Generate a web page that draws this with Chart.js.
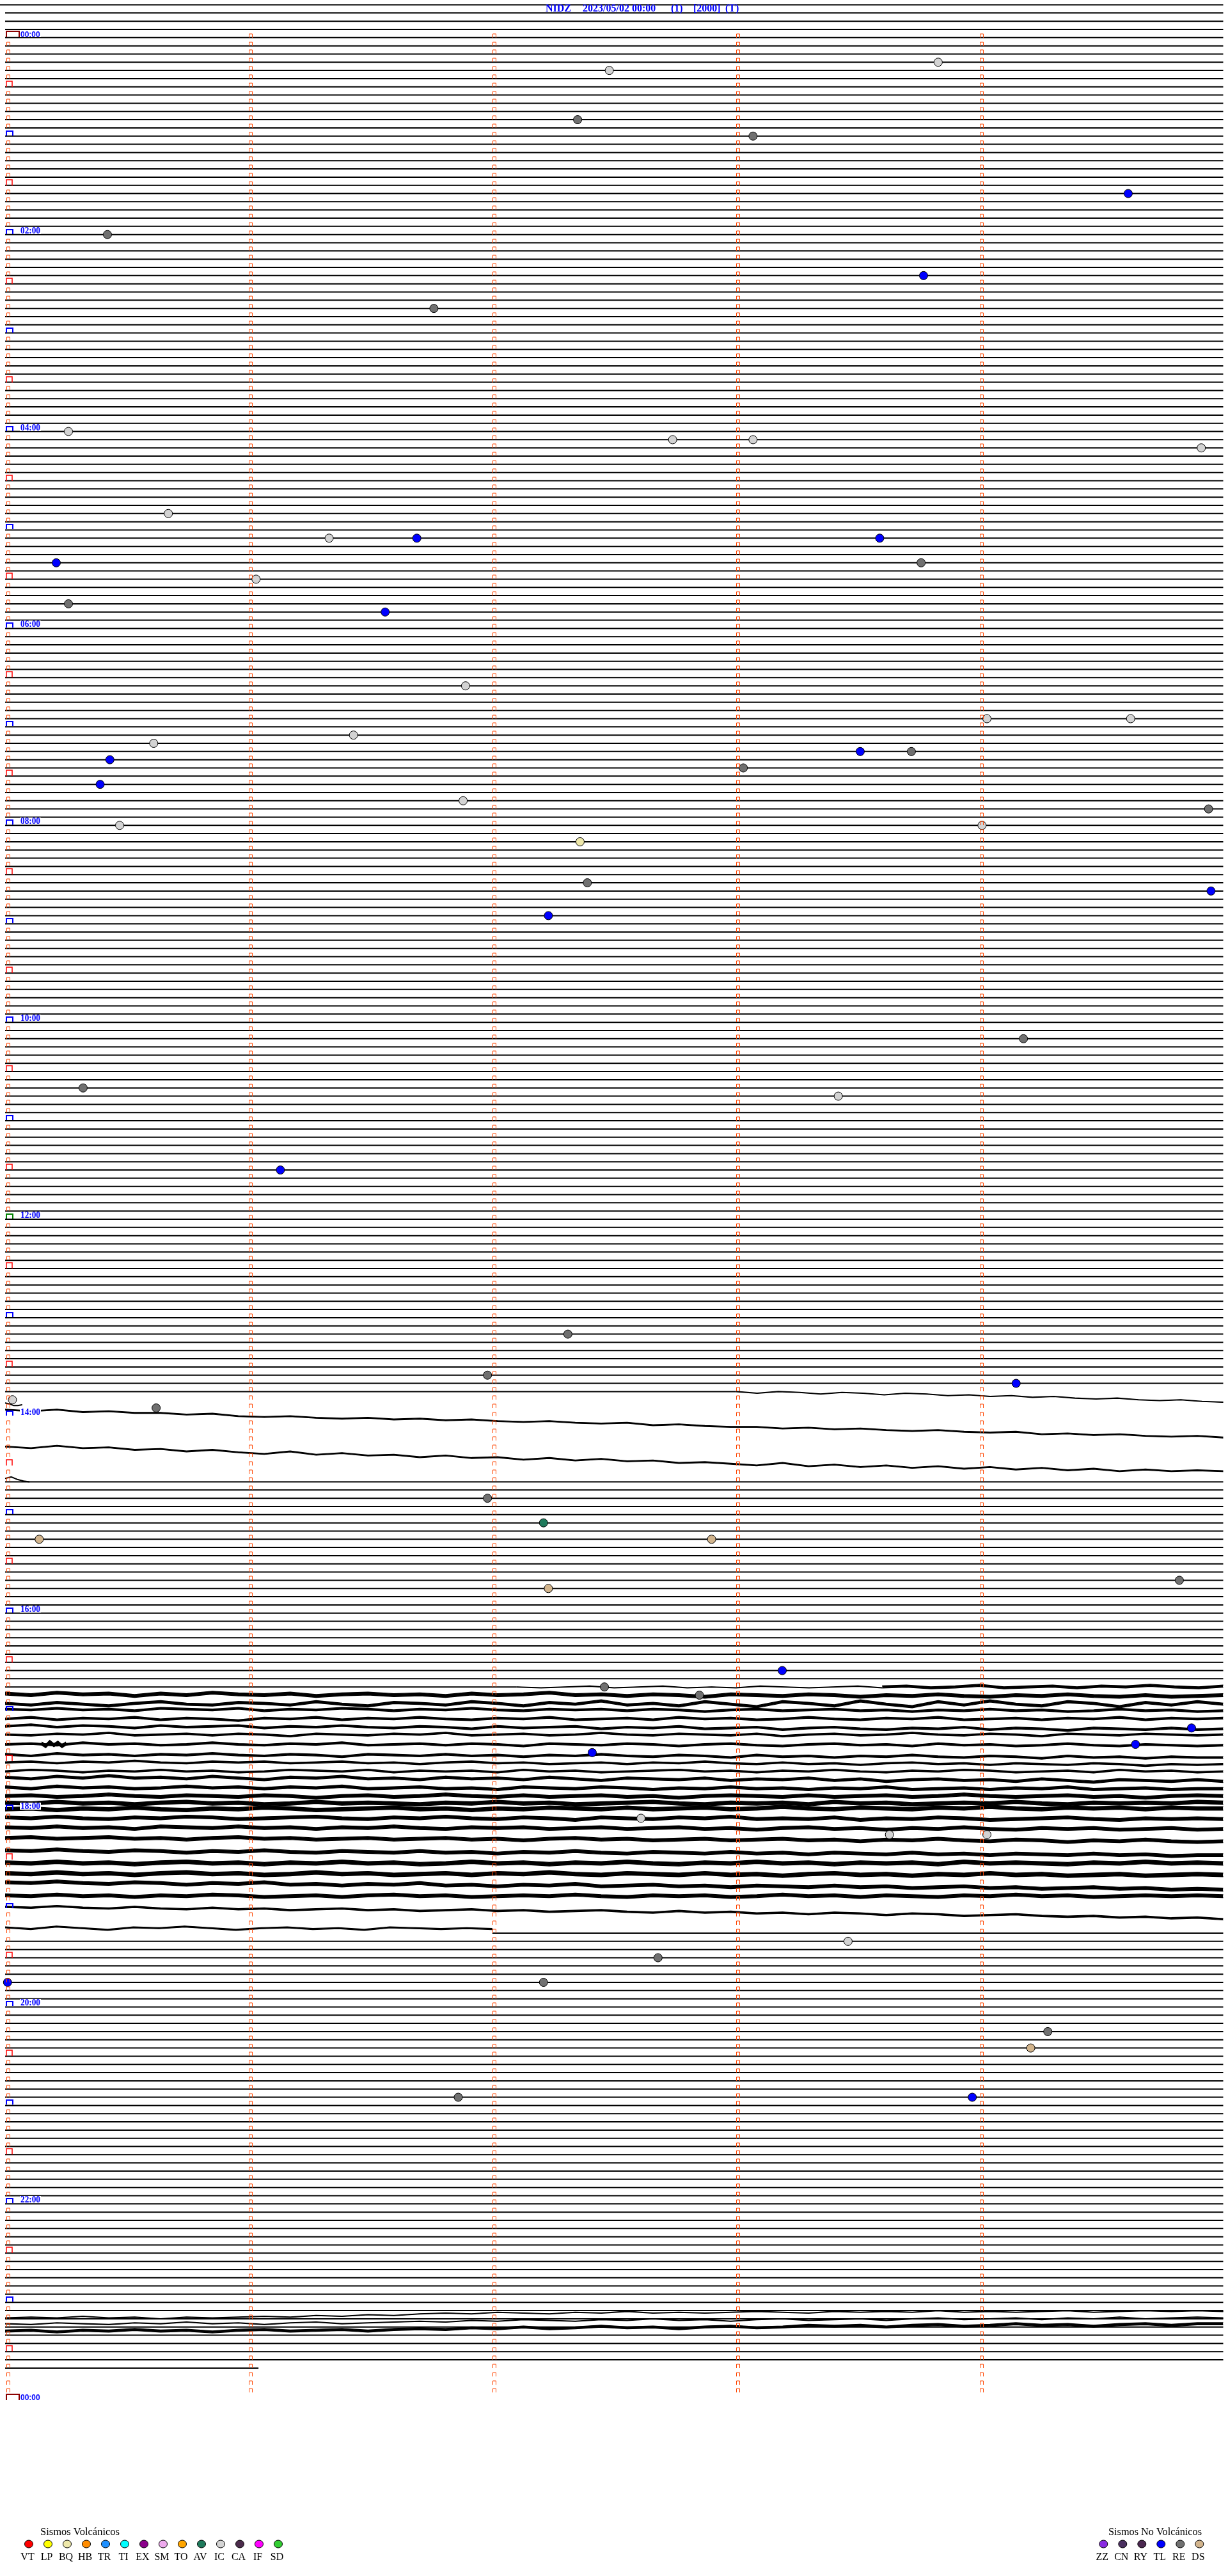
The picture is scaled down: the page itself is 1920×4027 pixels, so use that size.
<!DOCTYPE html>
<html>
<head>
<meta charset="utf-8">
<script src="https://cdn.jsdelivr.net/npm/chart.js"></script>
<style>
  html, body { margin: 0; padding: 0; background: #fff; }
  #viz { display: block; }
</style>
</head>
<body>
<canvas id="viz" width="1920" height="4027"></canvas>
<script>
// helicorder NIDZ: one line per 5 minutes (12 per hour), x = minute inside the line
var titleParts = ['NIDZ', '2023/05/02 00:00', '(1)', '[2000]', '(T)'];
var hourLabels = ['00:00', '02:00', '04:00', '06:00', '08:00', '10:00', '12:00',
  '14:00', '16:00', '18:00', '20:00', '22:00', '00:00'];

// events: minute of the day and class
var eventMinute = [18.83, 22.48, 52.35, 63.07, 99.61, 120.42, 148.77, 166.76, 240.26, 247.74,
  248.07, 254.91, 290.67, 306.33, 306.69, 308.59, 320.21, 323.76, 331.03, 345.26,
  351.56, 396.89, 419.03, 419.62, 426.43, 430.61, 438.51, 438.72, 440.43, 448.03,
  455.39, 466.88, 474.94, 480.47, 484.01, 492.36, 517.39, 524.95, 537.23, 614.18,
  640.32, 648.42, 691.13, 792.31, 816.98, 824.15, 830.03, 835.62, 891.98, 907.21,
  915.14, 917.90, 944.82, 947.23, 998.19, 1007.46, 1012.85, 1034.87, 1044.64, 1047.41,
  1087.61, 1098.63, 1099.03, 1163.46, 1172.68, 1185.01, 1187.21, 1219.28, 1229.21, 1256.86,
  1258.97];
var eventType = ['IC', 'IC', 'RE', 'RE', 'TL', 'RE', 'TL', 'RE', 'IC', 'IC',
  'IC', 'IC', 'IC', 'IC', 'TL', 'TL', 'TL', 'RE', 'IC', 'RE',
  'TL', 'IC', 'IC', 'IC', 'IC', 'IC', 'TL', 'RE', 'TL', 'RE',
  'TL', 'IC', 'RE', 'IC', 'IC', 'BQ', 'RE', 'TL', 'TL', 'RE',
  'RE', 'IC', 'TL', 'RE', 'RE', 'TL', 'IC', 'RE', 'RE', 'AV',
  'DS', 'DS', 'RE', 'DS', 'TL', 'RE', 'RE', 'TL', 'TL', 'TL',
  'IC', 'IC', 'IC', 'IC', 'RE', 'TL', 'RE', 'RE', 'DS', 'RE',
  'TL'];

var volcCodes = ['VT', 'LP', 'BQ', 'HB', 'TR', 'TI', 'EX', 'SM', 'TO', 'AV', 'IC', 'CA', 'IF', 'SD'];
var volcColors = ['#ff0000', '#ffff00', '#eee8aa', '#ff8c00', '#1e90ff', '#00ffff', '#8b008b',
  '#eeaaee', '#ffa500', '#1f7a5c', '#d3d3d3', '#4b2b4b', '#ff00ff', '#32cd32'];
var nonVolcCodes = ['ZZ', 'CN', 'RY', 'TL', 'RE', 'DS'];
var nonVolcColors = ['#8a2be2', '#4b3060', '#4b2850', '#0000ff', '#707070', '#d2b48c'];

// rows without a plain base line, and base lines that only cover part of a row
var gapFrom = [165, 201];
var gapTo = [175, 231];
var partRow = [-4, 165, 201, 231, 284];
var partStart = [-0.021, 0, 0, 2.0, 0];
var partEnd = [5, 3.0, 2.1, 5, 1.04];

// recorded traces: row, start/end minute, noise half width and trace offsets (tenths of a line)
var traceRow = [165, 166, 168, 172, 176, 201, 201, 202, 203, 204, 205, 206, 207, 208, 208,
  209, 210, 211, 212, 213, 214, 215, 216, 217, 218, 219, 221, 222, 223, 225, 226, 228,
  231, 278, 279, 280];
var traceStart = [3.0, 0, 0, 0, 0, 2.1, 3.6, 0, 0, 0, 0, 0, 0, 0, 0.15,
  0, 0, 0, 0, 0, 0, 0, 0, 0, 0, 0, 0, 0, 0, 0, 0, 0,
  0, 0, 0, 0];
var traceEnd = [5, 0.07, 5, 5, 0.1, 3.6, 5, 5, 5, 5, 5, 5, 5, 5, 0.25,
  5, 5, 5, 5, 5, 5, 5, 5, 5, 5, 5, 5, 5, 5, 5, 5, 5,
  2.0, 5, 5, 5];
var traceNoise = [0.3, 0.3, 0.6, 0.6, 0.3, 0.3, 1.3, 1.8, 1.4, 1.1, 1.1, 1.1, 0.9, 1.1, 2,
  1.1, 0.9, 0.9, 1.4, 1.5, 1.8, 2.1, 2.1, 1.8, 1.8, 1.8, 1.8, 2.2, 2.2, 1.8, 1.8, 0.9,
  0.7, 0.3, 0.3, 1.3];
var traceVals = [
  [0, 2, 0, 1, 3, 1, 2, 4, 2, 3, 5, 4, 6, 5, 7, 6, 8, 9, 8, 10, 11, 10, 12, 13],
  [4, 5, 7, 7, 6],
  [-8, -6, -8, -5, -6, -4, -4, -2, -3, 0, 1, 0, 2, 3, 2, 4, 3, 5, 4, 6, 7, 6, 8, 9, 8, 11, 10, 12, 13, 13, 15, 14, 16, 15, 17, 18, 17, 19, 20, 19, 22, 21, 23, 22, 24, 25, 24, 26],
  [-3, -1, -4, -1, -2, 1, 0, 3, 1, 4, 6, 3, 7, 5, 8, 7, 10, 8, 11, 10, 13, 11, 14, 12, 15, 14, 17, 16, 18, 20, 17, 21, 19, 22, 20, 23, 21, 24, 22, 25, 23, 26, 24, 27, 25, 27, 26, 27],
  [-4, -6, -3, -1, 0],
  [0, 1, 0, -1, 1, 0, -1, 1, 0, 1, -1, 0, 1, 0, -1, 1],
  [0, -1, 1, 0, -2, 1, 0, -1, 1, -1, 0, -2, 0, 1, -1],
  [-2, 0, -3, -1, -2, 1, -2, 0, -3, -1, 0, -2, 1, -1, -2, 0, -1, 1, -2, 0, -1, -3, 0, -1, 1, -1, 0, 2, -1, 0, 1, -1, 0, 2, 0, 1, -1, 1, 2, 0, 1, -1, 1, 2, 0, 2, 1, 0],
  [0, 2, -1, 1, 3, 0, -2, 1, 2, -1, 0, 2, -2, 1, 3, -1, 0, 2, -2, 0, 3, -1, 1, -3, 2, 0, 3, -2, 1, 4, -2, 0, 3, -3, 1, 4, -2, 2, -3, 1, 3, -2, 0, 4, -1, 2, -2, 1],
  [-3, -2, -4, -2, -3, -1, -4, -3, -2, -4, -1, -3, -2, -4, -3, -1, -3, -2, -4, -2, -1, -3, -2, -3, -1, -3, -2, 0, -2, -3, -1, -2, -3, -1, -2, 0, -2, -1, -3, -1, -2, 0, -1, -3, -1, -2, 0, -1],
  [-1, -3, 0, -2, -1, -3, 0, -2, -1, 1, -2, -1, -3, 0, -2, -1, -3, -1, 0, -2, -1, -3, 0, -1, -2, 0, -3, -1, -2, 0, -1, -3, -1, 0, -2, -1, -3, 0, -1, -2, 0, -2, -1, -3, 0, -2, -1, -2],
  [-2, -4, -1, -3, -2, 0, -3, -1, -2, -3, 0, -2, -1, -3, -1, 0, -2, -1, 1, -2, 0, -1, -2, 1, -1, 0, -2, 1, 0, -1, 2, 0, -1, 1, 2, 0, 1, -1, 2, 0, 1, 3, 0, 1, 2, 0, 2, 1],
  [-2, -1, -3, -2, -4, -1, -2, -3, -1, -3, -2, 0, -3, -2, -1, -3, -2, -4, -1, -2, -3, -1, -2, -4, -2, -1, -3, -2, -1, -3, 0, -2, -3, -1, -2, -4, -2, -1, -3, -2, 0, -3, -2, -1, -3, -2, -1, -2],
  [0, -1, 1, -2, 0, -1, 1, 0, -2, 0, 1, -1, 0, -2, 1, 0, -1, 1, -1, 0, 2, -1, 0, 1, -1, 0, 2, 0, -1, 1, 2, 0, -1, 1, 0, 2, -1, 1, 0, 2, 1, -1, 1, 2, 0, 1, 2, 1],
  [-1, 2, -3, 1, -2, 2, -1],
  [2, 4, 1, 3, 2, 4, 2, 3, 1, 3, 4, 2, 3, 5, 2, 3, 4, 2, 4, 3, 5, 3, 4, 2, 4, 5, 3, 4, 6, 3, 5, 4, 6, 4, 5, 3, 5, 6, 4, 5, 7, 4, 6, 5, 7, 5, 6, 6],
  [2, 1, 3, 1, 2, 0, 2, 3, 1, 2, 1, 3, 2, 1, 3, 2, 4, 2, 1, 3, 2, 4, 3, 2, 4, 2, 3, 1, 3, 4, 2, 4, 3, 5, 3, 2, 4, 3, 5, 3, 4, 5, 3, 4, 6, 4, 5, 4],
  [3, 1, 2, 4, 2, 3, 1, 3, 2, 4, 3, 1, 2, 3, 1, 4, 2, 3, 2, 4, 1, 3, 2, 4, 3, 2, 1, 3, 2, 4, 2, 3, 1, 3, 4, 2, 3, 1, 2, 4, 3, 2, 4, 1, 3, 2, 4, 3],
  [0, 2, -1, 1, -2, 1, 0, 2, -1, 1, 3, 0, 1, -1, 2, 1, 3, 0, 2, 1, 3, 0, 2, 4, 1, 2, 3, 1, 4, 2, 3, 1, 4, 2, 5, 3, 2, 4, 3, 5, 2, 4, 6, 3, 4, 5, 3, 5],
  [2, 4, 1, 3, 2, 4, 3, 1, 3, 2, 4, 2, 3, 1, 4, 3, 2, 4, 3, 5, 2, 3, 4, 2, 3, 5, 3, 4, 2, 4, 3, 5, 3, 4, 2, 5, 4, 3, 5, 3, 4, 2, 5, 4, 3, 5, 4, 4],
  [3, 2, 4, 3, 1, 3, 4, 2, 3, 4, 2, 3, 5, 3, 2, 4, 3, 1, 3, 4, 2, 4, 3, 2, 4, 3, 5, 3, 2, 3, 4, 2, 4, 3, 2, 4, 3, 1, 3, 4, 3, 2, 4, 3, 5, 3, 2, 3],
  [1, 2, 0, 2, 1, 3, 1, 0, 2, 1, 3, 2, 0, 2, 1, 2, 3, 1, 2, 0, 2, 1, 3, 2, 1, 0, 2, 3, 1, 2, 1, 3, 0, 2, 1, 3, 2, 1, 2, 0, 2, 3, 1, 2, 1, 2, 0, 1],
  [-1, -2, 0, -2, -1, -3, -1, 0, -2, -1, -3, -2, 0, -1, -2, -3, -1, -2, 0, -2, -1, -3, -2, -1, -3, -1, -2, -3, -1, -2, -4, -2, -1, -3, -2, -1, -3, -2, -4, -2, -1, -3, -2, -3, -1, -3, -2, -2],
  [-1, 0, -2, 0, 1, -1, 0, -2, -1, 1, 0, -1, -2, 0, 1, -1, 0, -2, 0, 1, -1, 0, 2, -1, 0, 1, -1, 0, -2, 1, 0, 1, -1, 2, 0, 1, -1, 0, 2, 1, 0, -1, 1, 2, 0, 1, 0, 1],
  [1, 2, 0, 2, 1, 3, 0, 1, 2, 0, 2, 1, 3, 1, 2, 0, 2, 3, 1, 2, 1, 3, 2, 1, 3, 2, 1, 3, 2, 4, 2, 1, 3, 2, 4, 2, 3, 1, 3, 4, 2, 3, 2, 4, 3, 2, 4, 3],
  [4, 3, 5, 4, 3, 5, 4, 6, 4, 3, 5, 4, 6, 5, 4, 6, 5, 4, 6, 5, 7, 5, 4, 6, 5, 7, 6, 5, 7, 6, 5, 7, 6, 8, 6, 7, 5, 7, 8, 6, 7, 9, 7, 8, 6, 8, 9, 8],
  [-1, 0, -2, 0, 1, -1, 0, 2, 0, 1, -1, 1, 2, 0, 1, 2, 0, 2, 1, 3, 1, 2, 0, 2, 3, 1, 2, 3, 1, 3, 2, 4, 2, 3, 4, 2, 4, 3, 5, 3, 4, 5, 3, 5, 4, 6, 5, 5],
  [4, 5, 3, 5, 4, 6, 4, 3, 5, 4, 6, 4, 5, 3, 5, 4, 6, 5, 3, 5, 4, 6, 4, 5, 3, 5, 6, 4, 5, 3, 5, 4, 6, 4, 5, 4, 6, 3, 5, 4, 5, 6, 4, 5, 3, 5, 4, 5],
  [7, 8, 6, 8, 7, 9, 7, 6, 8, 7, 9, 8, 6, 8, 7, 9, 8, 7, 9, 7, 8, 6, 8, 9, 7, 8, 9, 7, 9, 8, 10, 8, 7, 9, 8, 10, 8, 9, 7, 9, 8, 10, 9, 8, 10, 9, 8, 9],
  [-2, -1, -3, -1, 0, -2, -1, 1, -1, 0, -2, 1, 0, 2, 0, 1, -1, 2, 1, 3, 1, 2, 0, 3, 2, 1, 3, 2, 4, 2, 3, 4, 2, 4, 3, 5, 4, 3, 5, 4, 6, 5, 4, 6, 5, 7, 6, 7],
  [4, 5, 3, 5, 4, 6, 4, 5, 3, 4, 6, 5, 4, 6, 4, 3, 5, 4, 6, 5, 4, 5, 3, 5, 6, 4, 5, 4, 6, 5, 3, 5, 4, 6, 4, 5, 6, 4, 5, 3, 5, 4, 6, 5, 4, 5, 4, 5],
  [-2, -1, -3, -1, 0, -2, 0, 1, -1, 1, 0, 2, 1, 0, 2, 1, 3, 2, 1, 3, 2, 4, 3, 2, 4, 5, 3, 5, 4, 6, 5, 7, 5, 6, 8, 6, 7, 9, 8, 7, 9, 10, 9, 11, 10, 12, 11, 13],
  [-7, -5, -8, -6, -4, -7, -6, -8, -6, -4, -6, -7, -5, -6, -4, -7, -6, -5, -6, -5],
  [-1, -2, -1, -3, -1, -2, 0, -2, -1, -2, -3, -2, -4, -3, -5, -4, -6, -7, -6, -8, -7, -6, -8, -7, -9, -7, -8, -7, -8, -9, -8, -7, -9, -8, -9, -8, -10, -8, -9, -8, -9, -10, -8, -9, -10, -9, -10, -9],
  [-4, -3, -5, -4, -3, -5, -4, -6, -4, -5, -3, -5, -6, -4, -5, -6, -7, -6, -8, -7, -9, -8, -7, -9, -8, -10, -8, -9, -7, -9, -10, -8, -9, -10, -8, -10, -11, -9, -10, -11, -9, -11, -10, -12, -10, -11, -12, -11],
  [-5, -6, -4, -6, -5, -7, -5, -6, -4, -6, -7, -5, -6, -7, -5, -7, -8, -7, -9, -8, -10, -8, -9, -11, -9, -10, -8, -10, -11, -9, -10, -12, -11, -12, -10, -12, -13, -11, -12, -14, -12, -13, -11, -13, -14, -12, -14, -14]
];

function codeColor(code) {
  var i = volcCodes.indexOf(code);
  if (i >= 0) return volcColors[i];
  return nonVolcColors[nonVolcCodes.indexOf(code)];
}

function inGap(r) {
  for (var g = 0; g < gapFrom.length; g++) {
    if (r >= gapFrom[g] && r <= gapTo[g]) return true;
  }
  return false;
}

// plain base lines, split by null points
var basePts = [];
for (var r = -3; r <= 283; r++) {
  if (inGap(r)) continue;
  basePts.push({x: 0, y: r}, {x: 5, y: r}, {x: 5, y: null});
}
for (var p = 0; p < partRow.length; p++) {
  basePts.push({x: partStart[p], y: partRow[p]}, {x: partEnd[p], y: partRow[p]}, {x: partEnd[p], y: null});
}

var eventPts = [];
var eventColors = [];
for (var e = 0; e < eventMinute.length; e++) {
  var row = Math.floor(eventMinute[e] / 5);
  eventPts.push({x: eventMinute[e] - row * 5, y: row});
  eventColors.push(codeColor(eventType[e]));
}

var datasets = [
  {
    type: 'scatter',
    data: eventPts,
    pointRadius: 6.5,
    pointBackgroundColor: eventColors,
    pointBorderColor: '#000',
    pointBorderWidth: 1,
    order: 0,
    clip: false
  },
  {
    data: basePts,
    borderColor: '#000',
    borderWidth: 2,
    pointRadius: 0,
    fill: false,
    order: 1,
    clip: false
  }
];

for (var t = 0; t < traceRow.length; t++) {
  var vals = traceVals[t];
  var upper = [];
  var lower = [];
  for (var i = 0; i < vals.length; i++) {
    var xm = traceStart[t] + (traceEnd[t] - traceStart[t]) * i / (vals.length - 1);
    upper.push({x: xm, y: traceRow[t] + (vals[i] - traceNoise[t]) / 10});
    lower.push({x: xm, y: traceRow[t] + (vals[i] + traceNoise[t]) / 10});
  }
  datasets.push({data: upper, borderColor: '#000', borderWidth: 1.3, pointRadius: 0, fill: false, order: 1, clip: false});
  datasets.push({data: lower, borderColor: '#000', borderWidth: 1.3, pointRadius: 0, fill: '-1',
    backgroundColor: '#000', order: 1, clip: false});
}

function bracket(ctx, x, y, w, h) {
  ctx.beginPath();
  ctx.moveTo(x, y);
  ctx.lineTo(x, y - h);
  ctx.lineTo(x + w, y - h);
  ctx.lineTo(x + w, y);
  ctx.stroke();
}

var helicorderMarks = {
  id: 'helicorderMarks',
  afterDatasetsDraw: function (chart) {
    var ctx = chart.ctx;
    var xs = chart.scales.x;
    var ys = chart.scales.y;
    ctx.save();
    for (var r = 0; r <= 288; r++) {
      var py = Math.round(ys.getPixelForValue(r));
      var left = Math.round(xs.getPixelForValue(0));
      if (r < 288) {
        ctx.lineWidth = 1;
        ctx.strokeStyle = '#ff4500';
        for (var m = 1; m < 5; m++) {
          bracket(ctx, Math.round(xs.getPixelForValue(m)) + 0.5, py, 5, 6);
        }
      }
      if (r % 24 === 0) {
        // white patch behind the hour label, as on the drum record
        ctx.fillStyle = '#fff';
        ctx.fillRect(31, py - 12, 33, 11);
        ctx.fillStyle = '#0000ff';
        ctx.textBaseline = 'alphabetic';
        ctx.textAlign = 'left';
        if (r === 0 || r === 288) {
          ctx.font = 'bold 12px "Liberation Sans"';
          ctx.fillText(hourLabels[r / 24], 32, py - 1, 31);
        } else {
          ctx.font = 'bold 14px "Liberation Serif"';
          ctx.fillText(hourLabels[r / 24], 32, py - 2, 31);
        }
      }
      if (r % 12 === 0) {
        ctx.lineWidth = 2;
        if (r === 0 || r === 288) {
          ctx.strokeStyle = '#8b0000';
          bracket(ctx, left + 2, py - 1, 20, 9);
        } else if (r === 144) {
          ctx.strokeStyle = '#008000';
          bracket(ctx, left + 2, py - 1, 10, 7);
        } else {
          ctx.strokeStyle = '#0000ff';
          bracket(ctx, left + 2, py - 1, 10, 7);
        }
      } else if (r % 12 === 6) {
        ctx.lineWidth = 1.5;
        ctx.strokeStyle = '#ff0000';
        bracket(ctx, left + 2, py, 9, 9);
      } else {
        ctx.lineWidth = 1;
        ctx.strokeStyle = '#ff4500';
        bracket(ctx, left + 2.5, py, 5, 6);
      }
    }

    // title
    var titleX = [853, 911, 1049, 1084, 1134];
    ctx.fillStyle = '#0000ff';
    ctx.font = 'bold 16px "Liberation Serif"';
    ctx.textAlign = 'left';
    ctx.textBaseline = 'alphabetic';
    for (var k = 0; k < titleParts.length; k++) {
      ctx.fillText(titleParts[k], titleX[k], 18);
    }

    // legends
    ctx.fillStyle = '#000';
    ctx.font = '17px "Liberation Serif"';
    ctx.fillText('Sismos Volcánicos', 63, 3963, 124);
    ctx.fillText('Sismos No Volcánicos', 1733, 3963, 146);
    drawKey(ctx, volcCodes, volcColors, 45);
    drawKey(ctx, nonVolcCodes, nonVolcColors, 1725.3);
    ctx.restore();
  }
};

function drawKey(ctx, codes, colors, x0) {
  ctx.lineWidth = 1;
  ctx.strokeStyle = '#000';
  ctx.textAlign = 'center';
  ctx.font = '16px "Liberation Serif"';
  for (var i = 0; i < codes.length; i++) {
    var cx = x0 + i * 30;
    ctx.beginPath();
    ctx.ellipse(cx, 3977, 6.5, 6, 0, 0, Math.PI * 2);
    ctx.fillStyle = colors[i];
    ctx.fill();
    ctx.stroke();
    ctx.fillStyle = '#000';
    ctx.fillText(codes[i], cx - 2, 4002, 24);
  }
  ctx.textAlign = 'left';
}

var chart = new Chart(document.getElementById('viz').getContext('2d'), {
  type: 'line',
  data: { datasets: datasets },
  options: {
    responsive: false,
    animation: false,
    devicePixelRatio: 1,
    events: [],
    layout: { padding: { left: 8, right: 0, top: 5.67, bottom: 273.8 } },
    scales: {
      x: { type: 'linear', min: 0, max: 5, display: false },
      y: { type: 'linear', min: -4, max: 288, reverse: true, display: false }
    },
    elements: { line: { tension: 0 } },
    plugins: {
      legend: { display: false },
      tooltip: { enabled: false },
      title: { display: false }
    }
  },
  plugins: [helicorderMarks]
});
</script>
</body>
</html>
